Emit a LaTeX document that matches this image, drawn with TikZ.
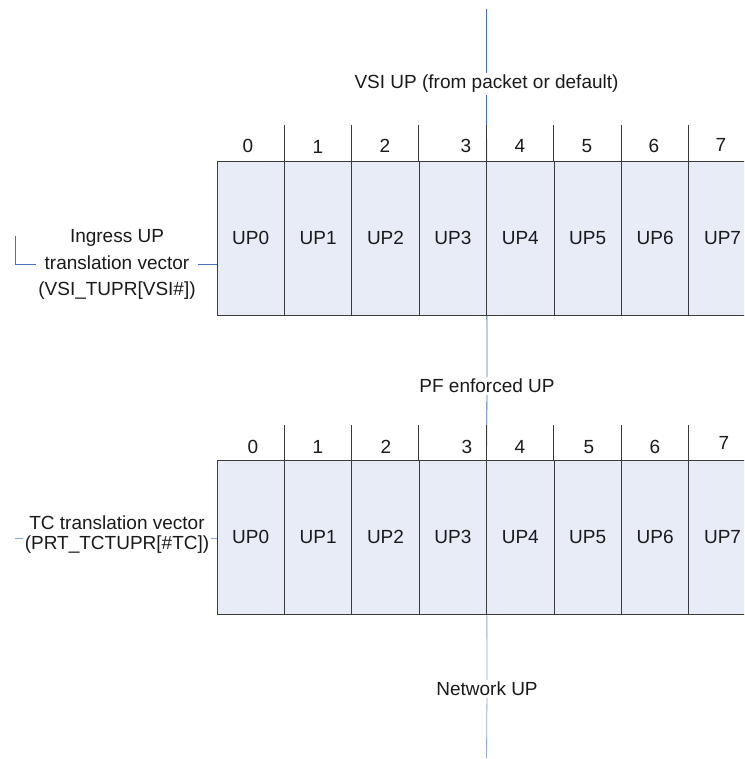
\documentclass[tikz,border=0pt]{standalone}
\usepackage{fontspec}
\setmainfont{Liberation Sans}
\usetikzlibrary{calc}
\definecolor{cellfill}{HTML}{E7ECF7}
\definecolor{gridc}{HTML}{3A3A3A}
\definecolor{bluedark}{HTML}{4472C4}
\definecolor{bluelight}{HTML}{8FAADC}
\definecolor{txt}{HTML}{1A1A1A}
\tikzset{
  cell/.style={draw=gridc, fill=cellfill, line width=0.9pt, minimum width=67.4pt, minimum height=154pt, inner sep=0pt, text=txt, font=\fontsize{19}{23}\selectfont},
  num/.style={inner sep=0pt, text=txt, font=\fontsize{19}{23}\selectfont},
  lbl/.style={fill=white, inner sep=2pt, text=txt, align=center, font=\fontsize{19}{23}\selectfont},
  tick/.style={draw=gridc, line width=0.9pt},
  flowd/.style={draw=bluedark, line width=0.8pt},
  flowl/.style={draw=bluelight, line width=0.8pt}
}
\begin{document}
\begin{tikzpicture}[x=1pt,y=-1pt]
\clip (0,0) rectangle (744,759);
\fill[white] (0,0) rectangle (744,759);
% labels on the main flow
\node[lbl] (vsi) at (486.5,84) {VSI UP (from packet or default)};
\node[lbl] (pf) at (487,386) {PF enforced UP};
\node[lbl] (net) at (487,689) {Network UP};
\coordinate (top) at (486.5,9);
\coordinate (bot) at (486.5,758);
% left connectors (behind labels)
\coordinate (ig0) at (15,236);
\coordinate (ig1) at (217,264);
\draw[flowd] (ig0) |- (ig1);
\coordinate (tc0) at (15,538);
\coordinate (tc1) at (217,538);
\draw[flowl] (tc0) -- (tc1);
% main flow (behind tables)
\draw[flowd] (top) -- (vsi);
\draw[flowd] (vsi) -- (pf);
\draw[flowd] (pf) -- (486.5,460) coordinate (t2top);
\draw[flowl] (t2top) -- (net);
\draw[flowl] (net) -- (bot);
% left labels
\node[lbl, font=\fontsize{19}{26.7}\selectfont] (ingress) at (117,264.5) {Ingress UP\\translation vector\\(VSI\_TUPR[VSI\#])};
\node[lbl, font=\fontsize{19}{20}\selectfont] (tc) at (117,535) {TC translation vector\\(PRT\_TCTUPR[\#TC])};
% table 1
\foreach \i in {0,...,7} {
  \node[cell] (t1c\i) at ({217+67.4*(\i+0.5)},238) {UP\i};
  \node[cell] (t2c\i) at ({217+67.4*(\i+0.5)},537) {UP\i};
}
\foreach \i in {1,...,7} {
  \draw[tick] (t1c\i.north west) -- ++(0,-36);
  \draw[tick] (t2c\i.north west) -- ++(0,-35);
}
% column numbers, table 1
\node[num] (a0) at (248,146) {0};
\node[num] (a1) at (318,147) {1};
\node[num] (a2) at (385,146) {2};
\node[num] (a3) at (466,146) {3};
\node[num] (a4) at (520,146) {4};
\node[num] (a5) at (587,146) {5};
\node[num] (a6) at (654,146) {6};
\node[num] (a7) at (721,145) {7};
% column numbers, table 2
\node[num] (b0) at (253,447) {0};
\node[num] (b1) at (318,447) {1};
\node[num] (b2) at (386,447) {2};
\node[num] (b3) at (467,447) {3};
\node[num] (b4) at (520,447) {4};
\node[num] (b5) at (589,447) {5};
\node[num] (b6) at (655,447) {6};
\node[num] (b7) at (724,443) {7};
\end{tikzpicture}
\end{document}
